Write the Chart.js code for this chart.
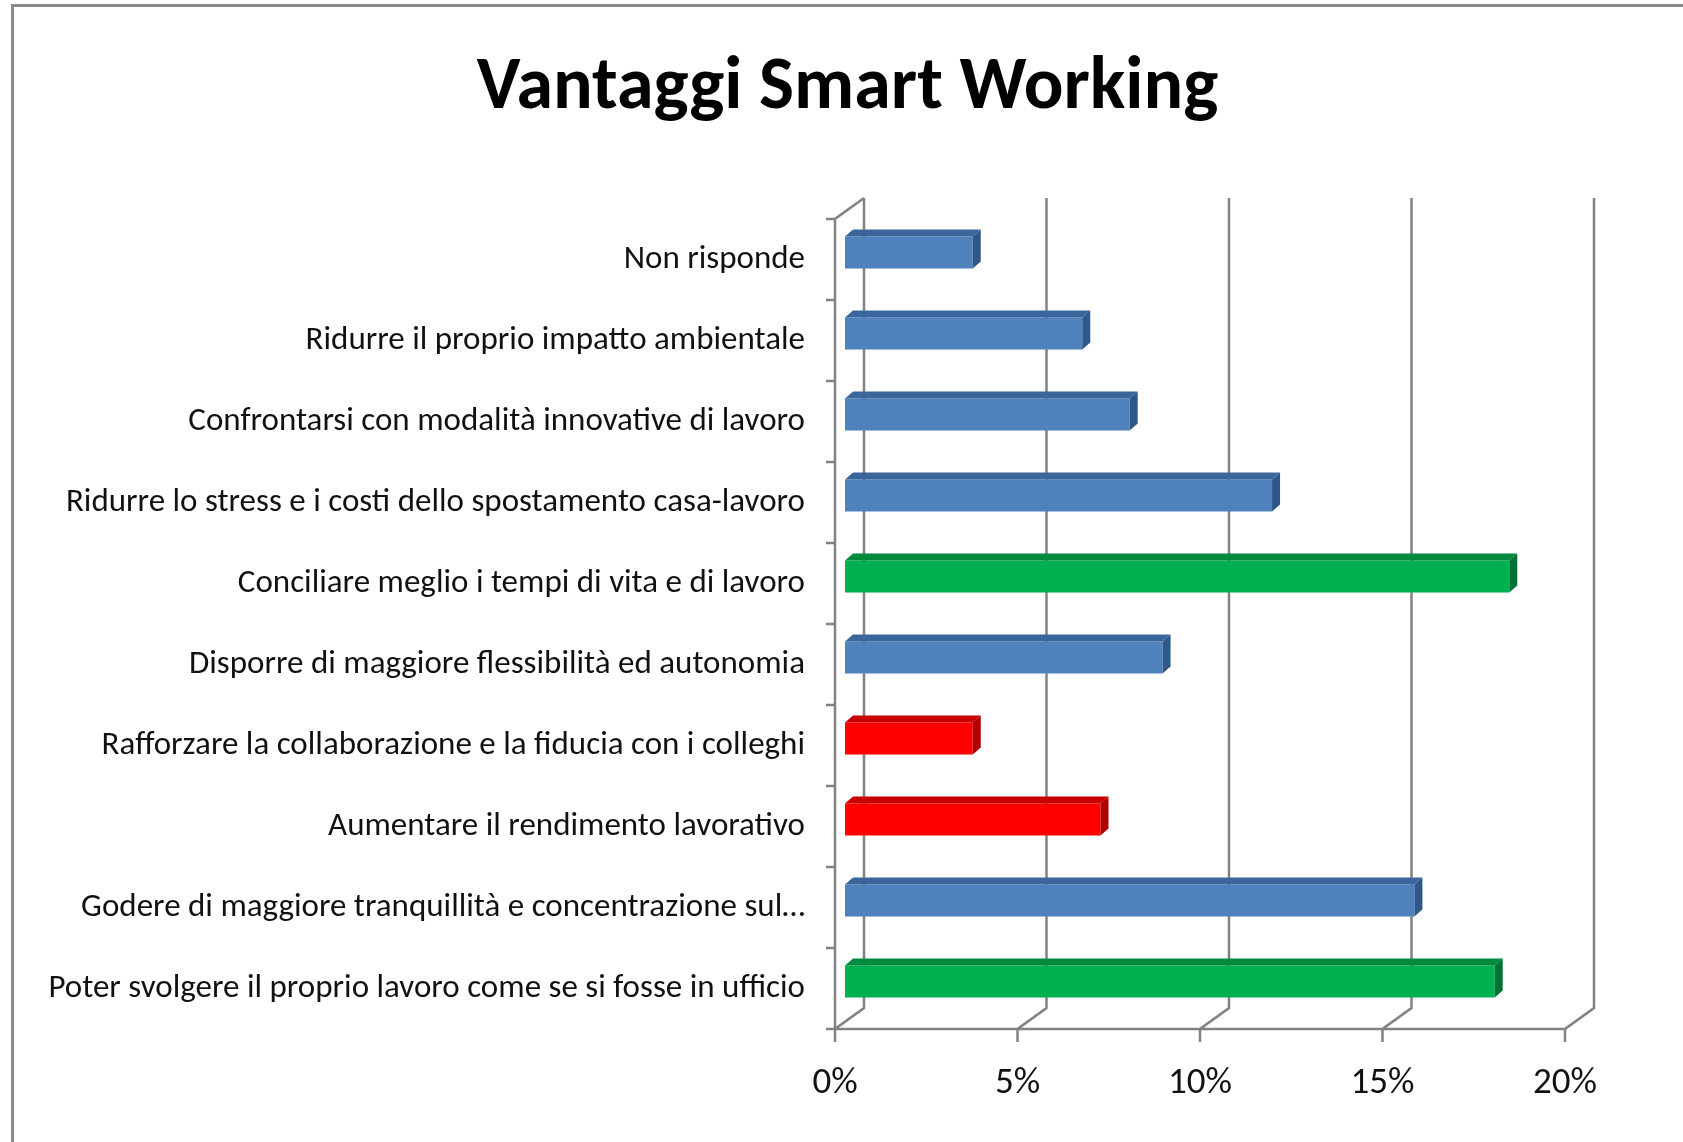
<!DOCTYPE html>
<html>
<head>
<meta charset="utf-8">
<script src="https://cdn.jsdelivr.net/npm/chart.js@4.4.1/dist/chart.umd.min.js"></script>
<style>
  html, body { margin: 0; padding: 0; background: #fff; }
  canvas { display: block; }
</style>
</head>
<body>
<canvas id="chart" width="1683" height="1142"></canvas>
<script>
// dati (percentuali)
const categories = [
    'Non risponde',
    'Ridurre il proprio impatto ambientale',
    'Confrontarsi con modalità innovative di lavoro',
    'Ridurre lo stress e i costi dello spostamento casa-lavoro',
    'Conciliare meglio i tempi di vita e di lavoro',
    'Disporre di maggiore flessibilità ed autonomia',
    'Rafforzare la collaborazione e la fiducia con i colleghi',
    'Aumentare il rendimento lavorativo',
    'Godere di maggiore tranquillità e concentrazione sul…',
    'Poter svolgere il proprio lavoro come se si fosse in ufficio'
];
const percentages = [3.5, 6.5, 7.8, 11.7, 18.2, 8.7, 3.5, 7.0, 15.6, 17.8];
const groups = ['blue', 'blue', 'blue', 'blue', 'green', 'blue', 'red', 'red', 'blue', 'green'];
const xTickValues = [0, 5, 10, 15, 20];

const palette = {
    blue:  { front: '#4f81bd', top: '#3b669c', side: '#2f5788' },
    green: { front: '#00b050', top: '#008a3d', side: '#007232' },
    red:   { front: '#ff0000', top: '#c80000', side: '#b00000' }
};

// spostamenti prospettici rispetto al piano delle barre
const FRONT = { dx: -10, dy: 7 };
const BACK = { dx: 19, dy: -14 };
const DEPTH = { dx: 8, dy: -7 };
const FONT = 'Carlito, Lato, sans-serif';
const TITLE_SHIFT = 60;

const frame3d = {
    id: 'frame3d',
    afterLayout(chart) {
        // il titolo nell'originale è centrato un po' più a destra
        if (chart.titleBlock) {
            chart.titleBlock.left += TITLE_SHIFT;
            chart.titleBlock.right += TITLE_SHIFT;
        }
    },
    beforeDraw(chart) {
        const ctx = chart.ctx;
        ctx.save();
        ctx.fillStyle = '#fff';
        ctx.fillRect(0, 0, chart.width, chart.height);
        ctx.strokeStyle = '#8a8a8a';
        ctx.lineWidth = 3;
        ctx.strokeRect(12.5, 5.5, chart.width + 40, chart.height + 40);
        ctx.restore();
    },
    beforeDatasetsDraw(chart) {
        const { ctx, chartArea, scales: { x, y } } = chart;
        const top = chartArea.top, bottom = chartArea.bottom;
        const x0 = x.getPixelForValue(xTickValues[0]);
        const x1 = x.getPixelForValue(xTickValues[xTickValues.length - 1]);
        ctx.save();
        ctx.strokeStyle = '#828282';
        ctx.lineWidth = 2.5;
        ctx.beginPath();
        xTickValues.forEach(v => {
            const px = x.getPixelForValue(v);
            ctx.moveTo(px + BACK.dx, top + BACK.dy);
            ctx.lineTo(px + BACK.dx, bottom + BACK.dy);
            ctx.lineTo(px + FRONT.dx, bottom + FRONT.dy);
            ctx.lineTo(px + FRONT.dx, bottom + FRONT.dy + 13);
        });
        // bordo anteriore del pavimento
        ctx.moveTo(x0 + FRONT.dx, bottom + FRONT.dy);
        ctx.lineTo(x1 + FRONT.dx, bottom + FRONT.dy);
        // parete sinistra
        ctx.moveTo(x0 + FRONT.dx, bottom + FRONT.dy);
        ctx.lineTo(x0 + FRONT.dx, top + FRONT.dy);
        ctx.lineTo(x0 + BACK.dx, top + BACK.dy);
        for (let i = 0; i <= categories.length; i++) {
            const py = y.getPixelForValue(i - 0.5) + FRONT.dy;
            ctx.moveTo(x0 + FRONT.dx - 9, py);
            ctx.lineTo(x0 + FRONT.dx, py);
        }
        ctx.stroke();
        ctx.restore();
    },
    afterDatasetsDraw(chart) {
        const ctx = chart.ctx;
        const meta = chart.getDatasetMeta(0);
        ctx.save();
        meta.data.forEach((bar, i) => {
            const { x: xEnd, y: yc, base, height } = bar.getProps(['x', 'y', 'base', 'height'], true);
            const t = yc - height / 2, b = yc + height / 2;
            const c = palette[groups[i]];
            ctx.fillStyle = c.top;
            ctx.beginPath();
            ctx.moveTo(base, t);
            ctx.lineTo(xEnd, t);
            ctx.lineTo(xEnd + DEPTH.dx, t + DEPTH.dy);
            ctx.lineTo(base + DEPTH.dx, t + DEPTH.dy);
            ctx.closePath();
            ctx.fill();
            ctx.fillStyle = c.side;
            ctx.beginPath();
            ctx.moveTo(xEnd, t);
            ctx.lineTo(xEnd + DEPTH.dx, t + DEPTH.dy);
            ctx.lineTo(xEnd + DEPTH.dx, b + DEPTH.dy);
            ctx.lineTo(xEnd, b);
            ctx.closePath();
            ctx.fill();
        });
        ctx.restore();
    }
};

new Chart(document.getElementById('chart'), {
    type: 'bar',
    data: {
        labels: categories,
        datasets: [{
            data: percentages,
            backgroundColor: groups.map(g => palette[g].front),
            borderWidth: 0,
            barPercentage: 0.395,
            categoryPercentage: 1
        }]
    },
    options: {
        indexAxis: 'y',
        responsive: false,
        animation: false,
        devicePixelRatio: 1,
        layout: { padding: { left: 0, right: 108, top: 0, bottom: 0 } },
        plugins: {
            legend: { display: false },
            tooltip: { enabled: false },
            title: {
                display: true,
                text: 'Vantaggi Smart Working',
                color: '#000',
                font: { family: FONT, size: 74, weight: 'bold' },
                padding: { top: 45, bottom: 78.2 }
            }
        },
        scales: {
            x: {
                min: 0,
                max: 20,
                grid: { display: false, drawTicks: false },
                border: { display: false },
                ticks: {
                    stepSize: 5,
                    padding: 40,
                    labelOffset: FRONT.dx,
                    color: '#111',
                    font: { family: FONT, size: 37 },
                    callback: v => v + '%'
                },
                afterFit: scale => { scale.height = 120; }
            },
            y: {
                grid: { display: false, drawTicks: false },
                border: { display: false },
                ticks: {
                    autoSkip: false,
                    padding: 40,
                    labelOffset: FRONT.dy,
                    color: '#111',
                    font: { family: FONT, size: 33 }
                },
                afterFit: scale => { scale.width = 845; }
            }
        }
    },
    plugins: [frame3d]
});
</script>
</body>
</html>
